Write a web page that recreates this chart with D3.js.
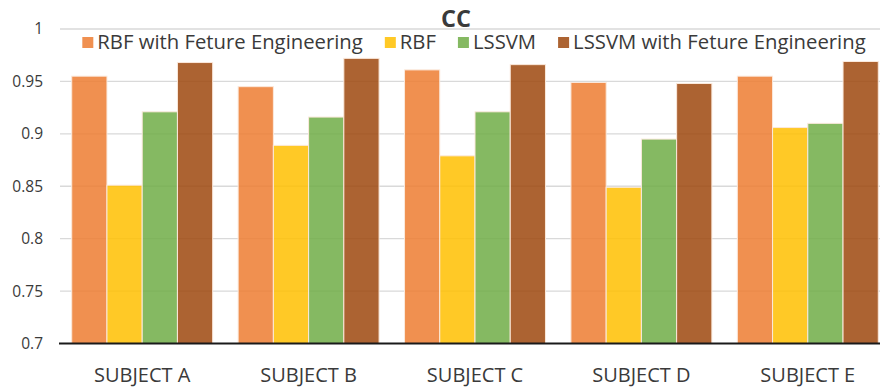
<!DOCTYPE html>
<html>
<head>
<meta charset="utf-8">
<script src="https://cdn.jsdelivr.net/npm/d3@7/dist/d3.min.js"></script>
<style>
  html, body { margin: 0; padding: 0; background: #fff; }
  svg { display: block; font-family: "Open Sans", "Noto Sans", sans-serif; }
</style>
</head>
<body>
<svg id="chart" width="880" height="387"></svg>
<script>
// CC scores per subject for each model
const categories = ["SUBJECT A", "SUBJECT B", "SUBJECT C", "SUBJECT D", "SUBJECT E"];
const seriesNames = ["RBF with Feture Engineering", "RBF", "LSSVM", "LSSVM with Feture Engineering"];
const rbfFE   = [0.955, 0.945, 0.961, 0.949, 0.955];
const rbf     = [0.851, 0.889, 0.879, 0.849, 0.906];
const lssvm   = [0.921, 0.916, 0.921, 0.895, 0.910];
const lssvmFE = [0.968, 0.972, 0.966, 0.948, 0.969];
const yTicks  = [0.7, 0.75, 0.8, 0.85, 0.9, 0.95, 1];
const colors  = ["#ED7D31", "#FFC000", "#70AD47", "#9E480E"];

const seriesValues = [rbfFE, rbf, lssvm, lssvmFE];

const svg = d3.select("#chart");
const W = 880, H = 387;
const plot = { left: 59, right: 891, top: 29, bottom: 343.5 };

const x = d3.scaleBand().domain(categories).range([plot.left, plot.right]).paddingInner(0.153).paddingOuter(0.0765);
const xs = d3.scaleBand().domain(d3.range(seriesNames.length)).range([0, x.bandwidth()]).padding(0);
const y = d3.scaleLinear().domain([0.7, 1]).range([plot.bottom, plot.top]);

// gridlines
svg.append("g")
  .selectAll("line")
  .data(yTicks.filter(t => t > 0.7))
  .join("line")
  .attr("x1", plot.left + 1).attr("x2", W)
  .attr("y1", d => y(d)).attr("y2", d => y(d))
  .attr("stroke", "#d9d9d9").attr("stroke-width", 1.3);

// y tick labels
const yAxis = d3.axisLeft(y).tickValues(yTicks).tickFormat(d3.format("~g")).tickSize(0).tickPadding(16);
const yg = svg.append("g").attr("transform", `translate(${plot.left},0)`).call(yAxis);
yg.select(".domain").remove();
yg.selectAll("text").attr("font-size", 15.5).attr("fill", "#3a3a3a").attr("font-family", "\"Open Sans\", sans-serif");

// bars
const rows = categories.map((c, i) => ({ cat: c, vals: seriesValues.map(s => s[i]) }));
const groups = svg.append("g").selectAll("g")
  .data(rows).join("g")
  .attr("transform", d => `translate(${x(d.cat)},0)`);
groups.selectAll("rect")
  .data(d => d.vals.map((v, k) => ({ v, k })))
  .join("rect")
  .attr("x", d => xs(d.k))
  .attr("width", xs.bandwidth())
  .attr("y", d => y(d.v))
  .attr("height", d => y(0.7) - y(d.v))
  .attr("fill", d => colors[d.k])
  .attr("fill-opacity", 0.85)
  .attr("stroke", "#fbe9dc")
  .attr("stroke-width", 1);

// x axis baseline
svg.append("line")
  .attr("x1", plot.left).attr("x2", W)
  .attr("y1", plot.bottom).attr("y2", plot.bottom)
  .attr("stroke", "#1a1a1a").attr("stroke-width", 2.2);

// x category labels
const xAxis = d3.axisBottom(x).tickSize(0).tickPadding(0);
const xg = svg.append("g").attr("transform", `translate(0,${plot.bottom})`).call(xAxis);
xg.select(".domain").remove();
xg.selectAll("text")
  .attr("font-size", 20).attr("fill", "#3a3a3a")
  .attr("font-family", "\"Open Sans\", sans-serif")
  .attr("dy", 0).attr("y", 38.5);

// title
svg.append("text")
  .attr("x", 456).attr("y", 27)
  .attr("text-anchor", "middle")
  .attr("font-size", 23.5).attr("font-weight", "bold").attr("fill", "#3a3a3a")
  .text("CC");

// legend
const legend = svg.append("g");
const items = legend.selectAll("g").data(seriesNames).join("g");
items.append("rect")
  .attr("width", 11).attr("height", 11).attr("y", 37)
  .attr("fill", (d, i) => colors[i]).attr("fill-opacity", 0.85);
items.append("text")
  .attr("x", 15).attr("y", 48.5)
  .attr("font-size", 20.3).attr("fill", "#3a3a3a")
  .text(d => d);
let cx = 0;
const gap = 22;
items.each(function () {
  const g = d3.select(this);
  const w = 15 + g.select("text").node().getComputedTextLength();
  g.attr("transform", `translate(${cx},0)`);
  cx += w + gap;
});
const total = cx - gap;
legend.attr("transform", `translate(${474 - total / 2},0)`);
</script>
</body>
</html>
